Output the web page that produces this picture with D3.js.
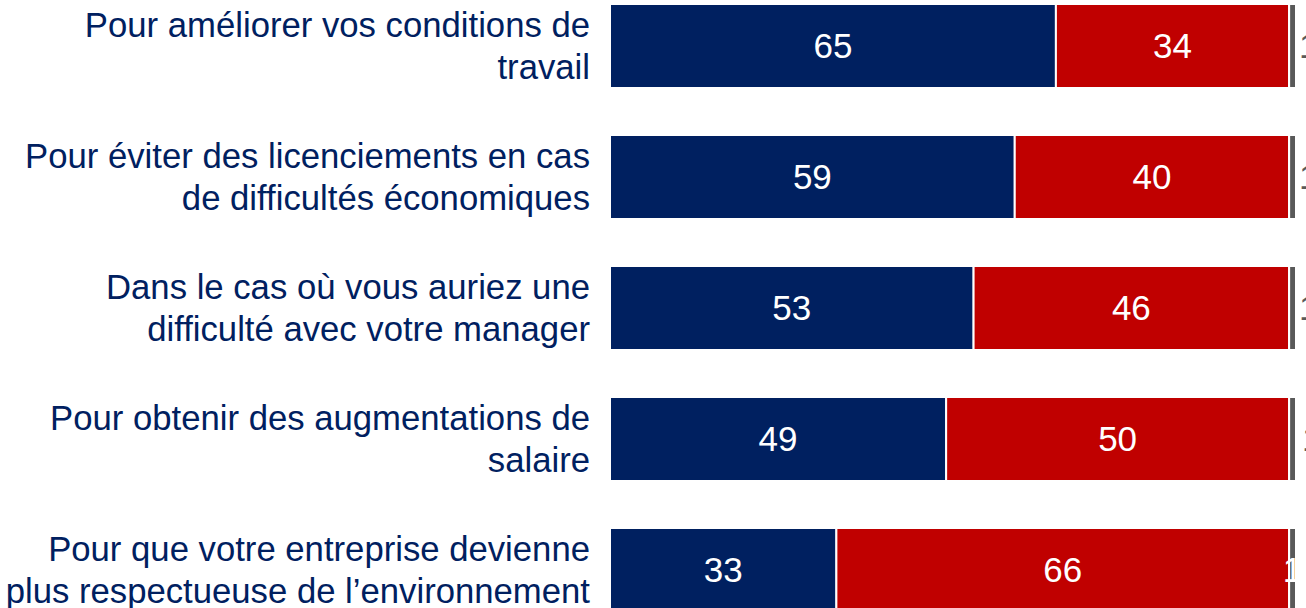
<!DOCTYPE html>
<html>
<head>
<meta charset="utf-8">
<script src="https://cdn.jsdelivr.net/npm/d3@7"></script>
<style>
  html, body { margin: 0; padding: 0; background: #fff; overflow: hidden; }
  svg { display: block; font-family: "Liberation Sans", Arial, sans-serif; }
</style>
</head>
<body>
<svg id="chart" width="1306" height="608"></svg>
<script>
// questions (two lines each)
var questions = [
    ["Pour améliorer vos conditions de", "travail"],
    ["Pour éviter des licenciements en cas", "de difficultés économiques"],
    ["Dans le cas où vous auriez une", "difficulté avec votre manager"],
    ["Pour obtenir des augmentations de", "salaire"],
    ["Pour que votre entreprise devienne", "plus respectueuse de l\u2019environnement"]
];
var oui = [65, 59, 53, 49, 33];
var non = [34, 40, 46, 50, 66];
var nsp = [1, 1, 1, 1, 1];

var seriesKeys = ["oui", "non", "nsp"];
var colors = {oui: "#002060", non: "#C00000", nsp: "#595959"};

var svg = d3.select("#chart");

var rows = questions.map(function(q, i) {
    return {id: i, label: q, oui: oui[i], non: non[i], nsp: nsp[i]};
});

var x = d3.scaleLinear()
    .domain([0, 100])
    .range([610, 1296]);

var y = d3.scaleBand()
    .domain(rows.map(function(d) { return d.id; }))
    .range([4, 612])
    .paddingInner(0.3588)
    .paddingOuter(0);

var stack = d3.stack().keys(seriesKeys);
var layers = stack(rows);

var groups = svg.selectAll("g.layer")
    .data(layers)
    .enter()
    .append("g")
    .attr("class", "layer")
    .attr("fill", function(d) { return colors[d.key]; });

groups.selectAll("rect")
    .data(function(d) { return d; })
    .enter()
    .append("rect")
    .attr("x", function(d) { return x(d[0]); })
    .attr("y", function(d) { return y(d.data.id); })
    .attr("width", function(d) { return x(d[1]) - x(d[0]); })
    .attr("height", y.bandwidth())
    .attr("stroke", "#fff")
    .attr("stroke-width", 2);

// value labels inside blue and red segments
layers.slice(0, 2).forEach(function(layer) {
    svg.selectAll(null)
        .data(layer)
        .enter()
        .append("text")
        .attr("x", function(d) { return (x(d[0]) + x(d[1])) / 2; })
        .attr("y", function(d) { return y(d.data.id) + y.bandwidth() / 2; })
        .attr("dy", "0.35em")
        .attr("text-anchor", "middle")
        .attr("fill", "#fff")
        .style("font-size", "35px")
        .text(function(d) { return d[1] - d[0]; });
});

// small grey segment label, outside the bar (last row sits on top of it)
var last = rows.length - 1;
svg.selectAll(null)
    .data(layers[2])
    .enter()
    .append("text")
    .attr("x", function(d, i) {
        if (i === last) return (x(d[0]) + x(d[1])) / 2;
        return x(d[1]) + (i === 3 ? 6 : 3);
    })
    .attr("y", function(d) { return y(d.data.id) + y.bandwidth() / 2; })
    .attr("dy", "0.35em")
    .attr("text-anchor", function(d, i) { return i === last ? "middle" : "start"; })
    .attr("fill", function(d, i) { return i === last ? "#fff" : "#595959"; })
    .style("font-size", "35px")
    .text(function(d) { return d[1] - d[0]; });

// category labels on the left
var lab = svg.selectAll("text.cat")
    .data(rows)
    .enter()
    .append("text")
    .attr("class", "cat")
    .attr("x", 590)
    .attr("y", function(d) { return y(d.id) + y.bandwidth() / 2; })
    .attr("text-anchor", "end")
    .attr("fill", "#002060")
    .style("font-size", "34.7px");

lab.selectAll("tspan")
    .data(function(d) { return d.label; })
    .enter()
    .append("tspan")
    .attr("x", 590)
    .attr("dy", function(d, i) { return i === 0 ? "-0.25em" : "1.2em"; })
    .text(function(d) { return d; });
</script>
</body>
</html>
